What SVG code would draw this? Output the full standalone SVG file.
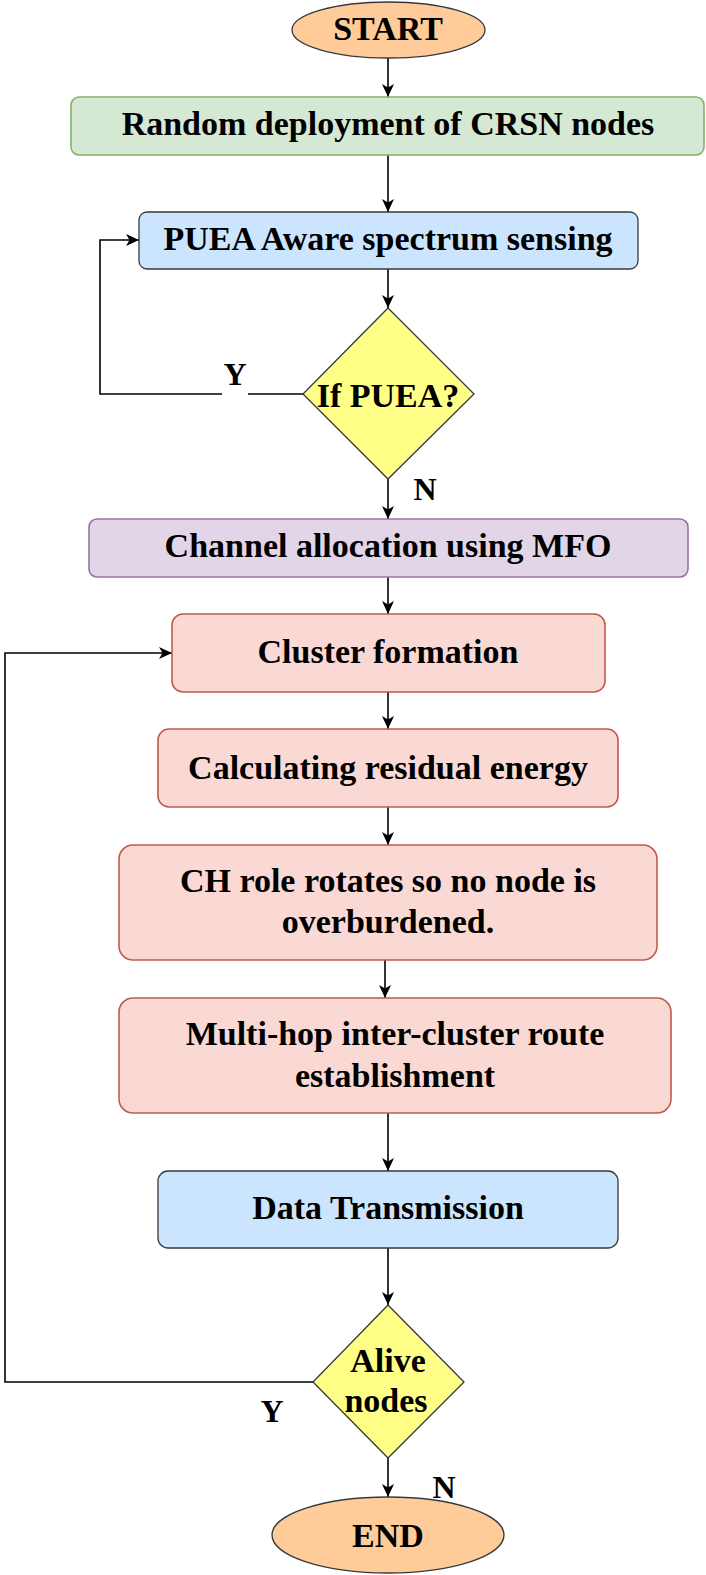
<svg xmlns="http://www.w3.org/2000/svg" width="706" height="1575" viewBox="0 0 706 1575">
<defs>
<style>
text{font-family:"Liberation Serif","Times New Roman",serif;font-weight:bold;font-size:34px;fill:#000;text-anchor:middle}
.lbl{font-size:32px}
.ov{fill:#ffcc99;stroke:#36393d;stroke-width:1.3}
.grn{fill:#d5e8d4;stroke:#82b366;stroke-width:1.6}
.blu{fill:#cce5ff;stroke:#36393d;stroke-width:1.3}
.pur{fill:#e1d5e7;stroke:#9673a6;stroke-width:1.6}
.red{fill:#fad9d5;stroke:#c25a4c;stroke-width:1.6}
.dia{fill:#ffff88;stroke:#36393d;stroke-width:1.3}
.con{fill:none;stroke:#000;stroke-width:1.6}
</style>
<marker id="ah" markerWidth="13" markerHeight="12" refX="13" refY="6" orient="auto" markerUnits="userSpaceOnUse">
<path d="M0,0 L13,6 L0,12 L3.5,6 Z" fill="#000"/>
</marker>
</defs>
<rect width="706" height="1575" fill="#fff"/>

<g id="connectors">
<path class="con" d="M388,58 V97" marker-end="url(#ah)"/>
<path class="con" d="M388,155 V212" marker-end="url(#ah)"/>
<path class="con" d="M388,269 V308" marker-end="url(#ah)"/>
<path class="con" d="M303,394 H248 M222,394 H100 V240 H139" marker-end="url(#ah)"/>
<path class="con" d="M388,479 V519" marker-end="url(#ah)"/>
<path class="con" d="M388,577 V614" marker-end="url(#ah)"/>
<path class="con" d="M388,692 V729" marker-end="url(#ah)"/>
<path class="con" d="M388,807 V845" marker-end="url(#ah)"/>
<path class="con" d="M385,960 V998" marker-end="url(#ah)"/>
<path class="con" d="M388,1113 V1171" marker-end="url(#ah)"/>
<path class="con" d="M388,1248 V1305" marker-end="url(#ah)"/>
<path class="con" d="M313,1382 H5 V653 H172" marker-end="url(#ah)"/>
<path class="con" d="M388,1458 V1497" marker-end="url(#ah)"/>
<text class="lbl" x="235" y="385">Y</text>
<text class="lbl" x="425" y="500">N</text>
<text class="lbl" x="272" y="1422">Y</text>
<text class="lbl" x="444" y="1498">N</text>
</g>

<g id="start">
<ellipse class="ov" cx="388.5" cy="30" rx="96.5" ry="28"/>
<text x="388" y="40">START</text>
</g>
<g id="deploy">
<rect class="grn" x="71" y="97" width="633" height="58" rx="8"/>
<text x="388" y="135">Random deployment of CRSN nodes</text>
</g>
<g id="sensing">
<rect class="blu" x="139" y="212" width="499" height="57" rx="8"/>
<text x="388" y="250">PUEA Aware spectrum sensing</text>
</g>
<g id="if-puea">
<polygon class="dia" points="388,308 474,394 388,479 303,394"/>
<text x="388" y="407">If PUEA?</text>
</g>
<g id="channel">
<rect class="pur" x="89" y="519" width="599" height="58" rx="8"/>
<text x="388" y="557">Channel allocation using MFO</text>
</g>
<g id="cluster">
<rect class="red" x="172" y="614" width="433" height="78" rx="11"/>
<text x="388" y="663">Cluster formation</text>
</g>
<g id="energy">
<rect class="red" x="158" y="729" width="460" height="78" rx="11"/>
<text x="388" y="779">Calculating residual energy</text>
</g>
<g id="ch-role">
<rect class="red" x="119" y="845" width="538" height="115" rx="14"/>
<text x="388" y="892">CH role rotates so no node is</text>
<text x="388" y="933">overburdened.</text>
</g>
<g id="multihop">
<rect class="red" x="119" y="998" width="552" height="115" rx="14"/>
<text x="395" y="1045">Multi-hop inter-cluster route</text>
<text x="395" y="1087">establishment</text>
</g>
<g id="data">
<rect class="blu" x="158" y="1171" width="460" height="77" rx="10"/>
<text x="388" y="1219">Data Transmission</text>
</g>
<g id="alive">
<polygon class="dia" points="388,1305 464,1382 388,1458 313,1382"/>
<text x="388" y="1372">Alive</text>
<text x="386" y="1412">nodes</text>
</g>
<g id="end">
<ellipse class="ov" cx="388" cy="1535" rx="116" ry="38"/>
<text x="388" y="1547">END</text>
</g>
</svg>
